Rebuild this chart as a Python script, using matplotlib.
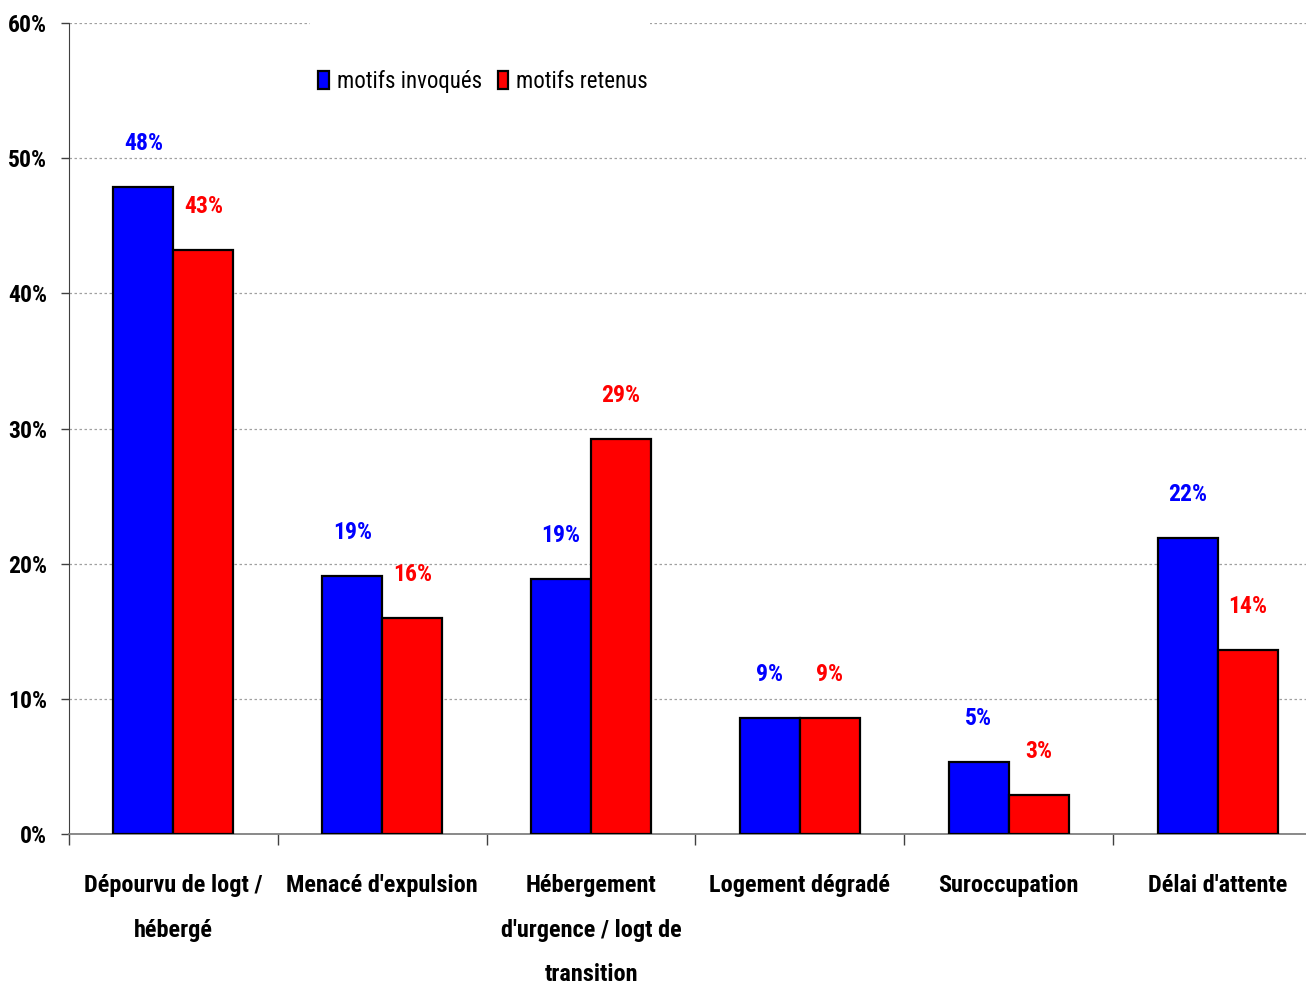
import numpy as np
import matplotlib
matplotlib.use("Agg")
from matplotlib import pyplot as plt
from matplotlib.patches import Rectangle

categories = [
    "Dépourvu de logt /\nhébergé",
    "Menacé d'expulsion",
    "Hébergement\nd'urgence / logt de\ntransition",
    "Logement dégradé",
    "Suroccupation",
    "Délai d'attente",
]
invoques = [47.9, 19.1, 18.9, 8.6, 5.3, 21.9]
retenus = [43.2, 16.0, 29.2, 8.6, 2.9, 13.6]
series_names = ["motifs invoqués", "motifs retenus"]
y_ticks = [0, 10, 20, 30, 40, 50, 60]

plt.rcParams["font.family"] = ["Roboto Condensed", "DejaVu Sans"]

fig = plt.figure(figsize=(13.06, 9.86), dpi=100)
# right edge runs past the canvas, the last category gets cut like the export
ax = fig.add_axes([69 / 1306, 152 / 986, 1253 / 1306, 811 / 986])

x = np.arange(len(categories))
w = 0.287
b1 = ax.bar(x - w / 2, invoques, w, color="#0000ff", edgecolor="black",
            linewidth=1.6, label=series_names[0], zorder=3)
b2 = ax.bar(x + w / 2, retenus, w, color="#ff0000", edgecolor="black",
            linewidth=1.6, label=series_names[1], zorder=3)

lab_font = dict(fontsize=17, fontweight="bold")
ax.bar_label(b1, labels=[f"{v:.0f}%" for v in invoques], padding=23,
             color="#0000ff", **lab_font)
ax.bar_label(b2, labels=[f"{v:.0f}%" for v in retenus], padding=23,
             color="#ff0000", **lab_font)

ax.set_xlim(-0.5, len(categories) - 0.5)
ax.set_ylim(0, 60)
ax.set_yticks(y_ticks)
ax.set_yticklabels([f"{t}%" for t in y_ticks], fontsize=17, fontweight="bold")
ax.tick_params(axis="y", length=6, width=1, color="#404040", pad=10)

# separators between groups as major ticks, names on minor ticks
ax.set_xticks(np.arange(len(categories) + 1) - 0.5)
ax.set_xticklabels([])
ax.set_xticks(x, minor=True)
ax.set_xticklabels(categories, minor=True, fontsize=17.5, fontweight="bold",
                   linespacing=2.2, va="top")
ax.tick_params(axis="x", which="major", length=8, width=1, color="#404040")
ax.tick_params(axis="x", which="minor", length=0, pad=29)

ax.set_axisbelow(True)
ax.yaxis.grid(True, color="#a0a0a0", linestyle=(0, (2, 2)), linewidth=0.9)

ax.spines["top"].set_visible(False)
ax.spines["right"].set_visible(False)
ax.spines["left"].set_color("#404040")
ax.spines["bottom"].set_color("#808080")
ax.spines["bottom"].set_linewidth(1.3)

# white block behind the legend hides the top gridline there
ax.add_patch(Rectangle((0.192, 0.9), 0.272, 0.12, transform=ax.transAxes,
                       facecolor="white", edgecolor="none", zorder=1,
                       clip_on=False))
ax.legend(loc="center left", bbox_to_anchor=(0.199, 0.928), ncol=2,
          frameon=False, fontsize=16.5, handlelength=0.45, handleheight=0.8,
          handletextpad=0.35, columnspacing=0.7, borderpad=0,
          borderaxespad=0)

fig.savefig("out.png", dpi=100)
